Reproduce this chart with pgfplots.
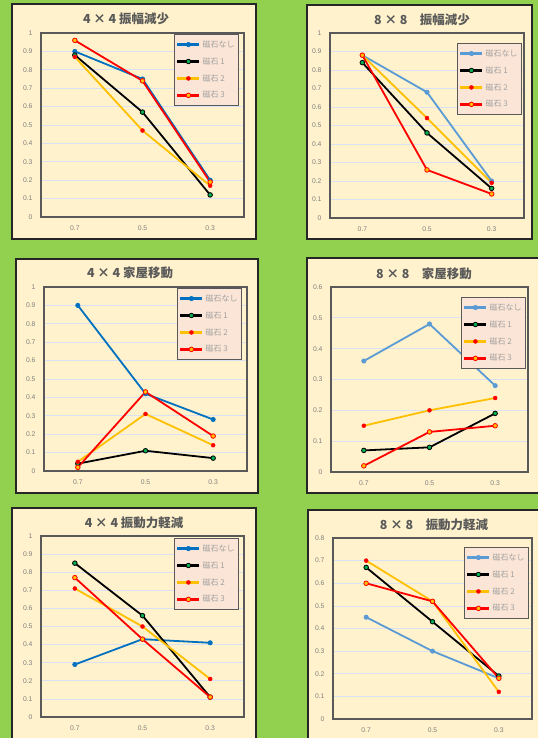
\documentclass[border=0pt]{standalone}
\usepackage{fontspec}
\setmainfont{Liberation Sans}
\newfontfamily\cjk{Noto Sans CJK JP}
\usepackage{pgfplots}
\pgfplotsset{compat=1.18}
\definecolor{bggreen}{HTML}{92D050}
\definecolor{panelbg}{HTML}{FFF2CC}
\definecolor{legbg}{HTML}{FBE5D6}
\definecolor{axisc}{HTML}{595959}
\definecolor{framec}{HTML}{262626}
\definecolor{gridc}{HTML}{D9E1F2}
\definecolor{tickc}{HTML}{7F7F7F}
\definecolor{titlec}{HTML}{595959}
\definecolor{legtext}{HTML}{A0A0A0}
\definecolor{blueA}{HTML}{0070C0}
\definecolor{blueB}{HTML}{5B9BD5}
\definecolor{yel}{HTML}{FFC000}
\definecolor{redc}{HTML}{FF0000}
\definecolor{grn}{HTML}{00B050}
\pgfplotsset{
  panel/.style={
    scale only axis, anchor=north west,
    xmin=-0.5, xmax=2.5, xtick={0,1,2}, xticklabels={0.7,0.5,0.3},
    ymin=0,
    ymajorgrids, grid style={draw=gridc, line width=0.7bp},
    axis line style={draw=axisc, line width=1.1bp},
    major tick length=0pt,
    tick label style={font=\fontsize{6.8}{7.5}\selectfont, text=tickc},
    /pgf/number format/assume math mode=true,
    yticklabel style={xshift=-5bp},
    xticklabel style={yshift=-5bp},
    legend cell align=left,
    legend style={fill=legbg, draw=axisc, line width=1bp,
      font=\cjk\fontsize{8}{8.5}\selectfont, text=legtext,
      row sep=4.8bp, inner xsep=2bp, inner ysep=4bp, anchor=north east},
    legend image code/.code={%
      \draw[##1,line width=2.4bp,mark=none] (0bp,0bp) -- (22bp,0bp);
      \draw[##1,only marks] plot coordinates {(11bp,0bp)};},
  },
  ytA/.style={ymax=1, ytick={0,0.1,0.2,0.3,0.4,0.5,0.6,0.7,0.8,0.9,1}},
  sA/.style={color=blueA, line width=1.8bp, mark=*, mark size=2.2bp, mark options={fill=blueA, draw=blueA, line width=0.6bp, solid}},
  sB/.style={color=blueB, line width=1.8bp, mark=*, mark size=2.2bp, mark options={fill=blueB, draw=blueB, line width=0.6bp, solid}},
  s1/.style={color=black, line width=1.8bp, mark=*, mark size=2.3bp, mark options={fill=grn, draw=black, line width=0.8bp, solid}},
  s2/.style={color=yel, line width=1.8bp, mark=*, mark size=2bp, mark options={fill=redc, draw=redc, line width=0.4bp, solid}},
  s3/.style={color=redc, line width=1.8bp, mark=*, mark size=2.3bp, mark options={fill=yel, draw=redc, line width=0.8bp, solid}},
}
\begin{document}
\begin{tikzpicture}
\useasboundingbox (0bp,0bp) rectangle (538bp,-738bp);
\clip (0bp,0bp) rectangle (538bp,-738bp);
\fill[bggreen] (0bp,0bp) rectangle (538bp,-738bp);
% panel frames
\filldraw[fill=panelbg, draw=framec, line width=1.2bp] (12bp,-4bp) rectangle (256bp,-239bp);
\filldraw[fill=panelbg, draw=framec, line width=1.2bp] (307bp,-5bp) rectangle (532bp,-239bp);
\filldraw[fill=panelbg, draw=framec, line width=1.2bp] (16bp,-259bp) rectangle (258bp,-493bp);
\filldraw[fill=panelbg, draw=framec, line width=1.2bp] (307bp,-258bp) rectangle (542bp,-493bp);
\filldraw[fill=panelbg, draw=framec, line width=1.2bp] (12bp,-508bp) rectangle (256bp,-745bp);
\filldraw[fill=panelbg, draw=framec, line width=1.2bp] (308bp,-510bp) rectangle (545bp,-745bp);
% titles
\begin{scope}[every node/.style={font=\cjk\bfseries\fontsize{12.5}{14}\selectfont, text=titlec}]
\node at (126bp,-19bp) {4 × 4 振幅減少};
\node at (422bp,-20bp) {8 × 8　振幅減少};
\node at (130bp,-273bp) {4 × 4 家屋移動};
\node at (424bp,-274bp) {8 × 8　家屋移動};
\node at (134bp,-523bp) {4 × 4 振動力軽減};
\node at (434bp,-525bp) {8 × 8　振動力軽減};
\end{scope}
% Panel 1
\begin{axis}[panel, ytA, at={(41bp,-33bp)}, width=203bp, height=184bp,
  legend style={at={(rel axis cs:1,1)}, xshift=-5bp, yshift=-1bp}]
\addplot[sA] coordinates {(0,0.90) (1,0.75) (2,0.20)};
\addplot[s1] coordinates {(0,0.88) (1,0.57) (2,0.12)};
\addplot[s2] coordinates {(0,0.87) (1,0.47) (2,0.17)};
\addplot[s3] coordinates {(0,0.96) (1,0.74) (2,0.19)};
\legend{磁石なし,磁石 1,磁石 2,磁石 3}
\end{axis}
% Panel 2
\begin{axis}[panel, ytA, at={(330bp,-33bp)}, width=194bp, height=185bp,
  legend style={at={(rel axis cs:1,1)}, xshift=-2bp, yshift=-10bp}]
\addplot[sB] coordinates {(0,0.88) (1,0.68) (2,0.20)};
\addplot[s1] coordinates {(0,0.84) (1,0.46) (2,0.16)};
\addplot[s2] coordinates {(0,0.88) (1,0.54) (2,0.19)};
\addplot[s3] coordinates {(0,0.88) (1,0.26) (2,0.13)};
\legend{磁石なし,磁石 1,磁石 2,磁石 3}
\end{axis}
% Panel 3
\begin{axis}[panel, ytA, at={(44bp,-287bp)}, width=203bp, height=184bp,
  legend style={at={(rel axis cs:1,1)}, xshift=-5bp, yshift=-1bp}]
\addplot[sA] coordinates {(0,0.90) (1,0.42) (2,0.28)};
\addplot[s1] coordinates {(0,0.04) (1,0.11) (2,0.07)};
\addplot[s2] coordinates {(0,0.05) (1,0.31) (2,0.14)};
\addplot[s3] coordinates {(0,0.02) (1,0.43) (2,0.19)};
\legend{磁石なし,磁石 1,磁石 2,磁石 3}
\end{axis}
% Panel 4
\begin{axis}[panel, at={(331bp,-287bp)}, width=197bp, height=185bp,
  ymax=0.6, ytick={0,0.1,0.2,0.3,0.4,0.5,0.6},
  legend style={at={(rel axis cs:1,1)}, xshift=-2bp, yshift=-10bp}]
\addplot[sB] coordinates {(0,0.36) (1,0.48) (2,0.28)};
\addplot[s1] coordinates {(0,0.07) (1,0.08) (2,0.19)};
\addplot[s2] coordinates {(0,0.15) (1,0.20) (2,0.24)};
\addplot[s3] coordinates {(0,0.02) (1,0.13) (2,0.15)};
\legend{磁石なし,磁石 1,磁石 2,磁石 3}
\end{axis}
% Panel 5
\begin{axis}[panel, ytA, at={(41bp,-536bp)}, width=203bp, height=181bp,
  legend style={at={(rel axis cs:1,1)}, xshift=-5bp, yshift=-2bp}]
\addplot[sA] coordinates {(0,0.29) (1,0.43) (2,0.41)};
\addplot[s1] coordinates {(0,0.85) (1,0.56) (2,0.11)};
\addplot[s2] coordinates {(0,0.71) (1,0.50) (2,0.21)};
\addplot[s3] coordinates {(0,0.77) (1,0.43) (2,0.11)};
\legend{磁石なし,磁石 1,磁石 2,磁石 3}
\end{axis}
% Panel 6
\begin{axis}[panel, at={(333bp,-538bp)}, width=199bp, height=181bp,
  ymax=0.8, ytick={0,0.1,0.2,0.3,0.4,0.5,0.6,0.7,0.8},
  legend style={at={(rel axis cs:1,1)}, xshift=-3bp, yshift=-9bp}]
\addplot[sB] coordinates {(0,0.45) (1,0.30) (2,0.18)};
\addplot[s1] coordinates {(0,0.67) (1,0.43) (2,0.19)};
\addplot[s2] coordinates {(0,0.70) (1,0.52) (2,0.12)};
\addplot[s3] coordinates {(0,0.60) (1,0.52) (2,0.18)};
\legend{磁石なし,磁石 1,磁石 2,磁石 3}
\end{axis}
\end{tikzpicture}
\end{document}
